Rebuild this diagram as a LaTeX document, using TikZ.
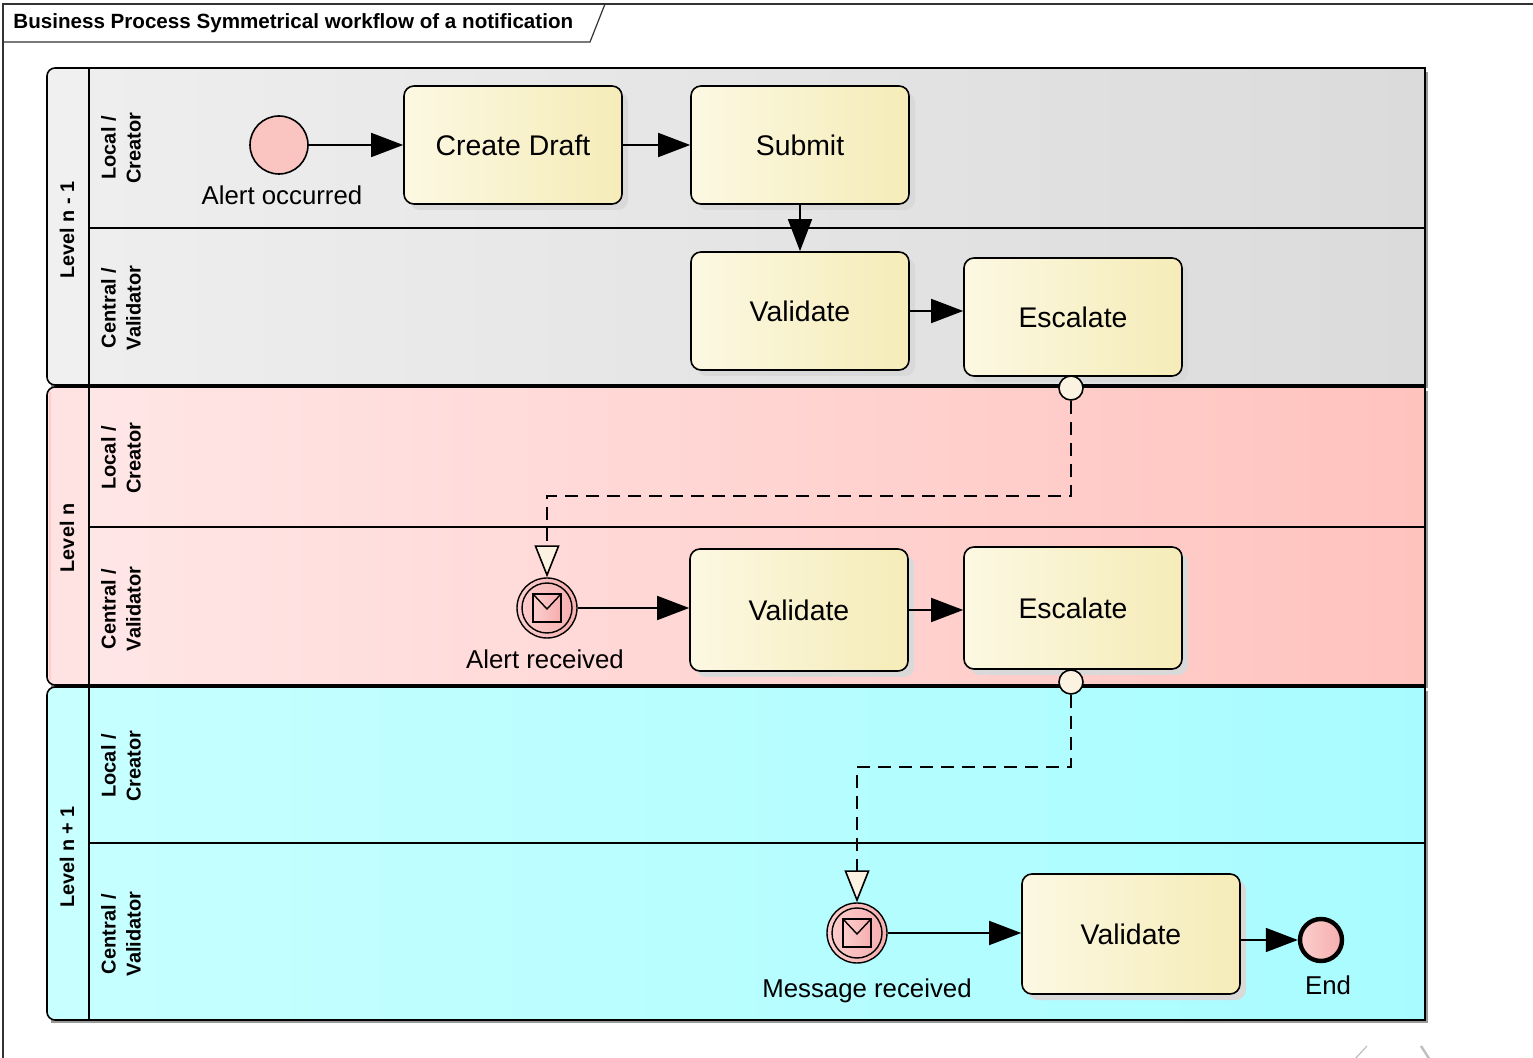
\documentclass[tikz,border=0pt]{standalone}
\usepackage{fontspec}
\setmainfont{Liberation Sans}
\usetikzlibrary{arrows.meta,shadows,calc}
\definecolor{taskL}{HTML}{FCF8E2}
\definecolor{taskR}{HTML}{F5ECB8}
\definecolor{poolAL}{HTML}{EEEEEE}
\definecolor{poolAR}{HTML}{DBDBDB}
\definecolor{hdrA}{HTML}{F0F0F0}
\definecolor{poolBL}{HTML}{FFE6E6}
\definecolor{poolBR}{HTML}{FFC3BE}
\definecolor{hdrB}{HTML}{FFE2E2}
\definecolor{poolCL}{HTML}{C6FFFF}
\definecolor{poolCR}{HTML}{A8FCFF}
\definecolor{hdrC}{HTML}{C8FFFF}
\definecolor{cream}{HTML}{FCF2E2}
\definecolor{evL}{HTML}{FCCECE}
\definecolor{evR}{HTML}{F6AEAE}
\definecolor{startfill}{HTML}{FAC4C0}
\begin{document}
\begin{tikzpicture}[x=0.5pt,y=-0.5pt,
  task/.style={draw=black, line width=0.8pt, rounded corners=5pt,
    left color=taskL, right color=taskR, minimum width=109pt, minimum height=59pt,
    font=\fontsize{14.2}{16}\selectfont, inner sep=0pt,
    drop shadow={shadow xshift=3pt, shadow yshift=-3pt, fill=black!15, opacity=1}},
  flow/.style={line width=0.8pt, -{Triangle[length=16pt,width=12pt]}},
  mflow/.style={line width=0.8pt, dash pattern=on 6.5pt off 4pt,
    -{Triangle[length=16pt,width=12.5pt,fill=cream]}},
  mcirc/.style={circle, draw, line width=0.8pt, fill=cream, minimum size=12pt, inner sep=0pt},
  evlbl/.style={font=\fontsize{12.9}{15}\selectfont, inner sep=0pt},
  lanelbl/.style={rotate=90, align=center, font=\bfseries\fontsize{10}{12.5}\selectfont, inner sep=0pt},
  poollbl/.style={rotate=90, font=\bfseries\fontsize{9.9}{12}\selectfont, inner sep=0pt},
  msgev/.style={circle, draw, line width=0.7pt, left color=evL, right color=evR,
    minimum size=30pt, inner sep=0pt},
  pline/.style={line width=0.8pt, draw=black}
]
\useasboundingbox (0,0) rectangle (1533,1058);
\fill[white] (0,0) rectangle (1533,1058);
% frame and title
\draw[line width=0.6pt, black!80] (3,1058) -- (3,4) -- (1533,4);
\draw[line width=0.6pt, black!80] (3,42) -- (590,42) -- (605,4);
\node[anchor=west, font=\bfseries\fontsize{10.3}{12}\selectfont, inner sep=0pt] (title) at (13,23) {Business Process Symmetrical workflow of a notification};

% ---------- Pool 1 ----------
\fill[black!40] (51,72) rectangle (1428,388);
\filldraw[fill=hdrA, pline, rounded corners=4pt] (89,385) -- (47,385) -- (47,68) -- (89,68);
\shade[left color=poolAL, right color=poolAR] (89,68) rectangle (1425,385);
\draw[pline] (89,68) rectangle (1425,385);
\draw[pline] (89,228) -- (1425,228);
\node[poollbl] (p1) at (67,230) {Level n - 1};
\node[lanelbl] (l11) at (121,148) {Local /\\Creator};
\node[lanelbl] (l12) at (121,308) {Central /\\Validator};

% ---------- Pool 2 ----------
\fill[black!40] (51,391) rectangle (1428,688);
\filldraw[fill=hdrB, pline, rounded corners=4pt] (89,685) -- (47,685) -- (47,387) -- (89,387);
\fill[poolBR!80] (48.5,392) rectangle (51,680);
\shade[left color=poolBL, right color=poolBR] (89,387) rectangle (1425,685);
\draw[pline] (89,387) rectangle (1425,685);
\draw[pline] (89,527) -- (1425,527);
\node[poollbl] (p2) at (67,538) {Level n};
\node[lanelbl] (l21) at (121,458) {Local /\\Creator};
\node[lanelbl] (l22) at (121,609) {Central /\\Validator};

% ---------- Pool 3 ----------
\fill[black!40] (51,691) rectangle (1428,1023);
\filldraw[fill=hdrC, pline, rounded corners=4pt] (89,1020) -- (47,1020) -- (47,687) -- (89,687);
\shade[left color=poolCL, right color=poolCR] (89,687) rectangle (1425,1020);
\draw[pline] (89,687) rectangle (1425,1020);
\draw[pline] (89,843) -- (1425,843);
\node[poollbl] (p3) at (67,857) {Level n + 1};
\node[lanelbl] (l31) at (121,766) {Local /\\Creator};
\node[lanelbl] (l32) at (121,934) {Central /\\Validator};

% ---------- tasks ----------
\node[task] (cd) at (513,145) {Create Draft};
\node[task] (sub) at (800,145) {Submit};
\node[task] (val1) at (800,311) {Validate};
\node[task] (esc1) at (1073,317) {Escalate};
\node[task, minimum height=61pt] (val2) at (799,610) {Validate};
\node[task, minimum height=61pt] (esc2) at (1073,608) {Escalate};
\node[task, minimum height=60pt] (val3) at (1131,934) {Validate};

% ---------- events ----------
\node[circle, draw, line width=0.8pt, fill=startfill, minimum size=29pt, inner sep=0pt] (start) at (279,145) {};
\node[evlbl] (lstart) at (282,195) {Alert occurred};

\node[msgev] (alrt) at (547,608) {};
\draw[line width=0.7pt] (alrt) circle[radius=25];
\draw[line width=0.7pt, left color=evL, right color=evR] ($(alrt)+(-14,-14)$) rectangle ($(alrt)+(14,14)$);
\draw[line width=0.7pt] ($(alrt)+(-14,-14)$) -- ($(alrt)+(0,1)$) -- ($(alrt)+(14,-14)$);
\node[evlbl] (lalrt) at (545,659) {Alert received};

\node[msgev] (msg) at (857,933) {};
\draw[line width=0.7pt] (msg) circle[radius=25];
\draw[line width=0.7pt, left color=evL, right color=evR] ($(msg)+(-14,-14)$) rectangle ($(msg)+(14,14)$);
\draw[line width=0.7pt] ($(msg)+(-14,-14)$) -- ($(msg)+(0,1)$) -- ($(msg)+(14,-14)$);
\node[evlbl] (lmsg) at (867,991) {Message received};

\node[circle, draw, line width=2.2pt, left color=evL, right color=evR, minimum size=21pt, inner sep=0pt] (endev) at (1321,940) {};
\node[evlbl] (lend) at (1328,985) {End};

% ---------- sequence flows ----------
\draw[flow] (start) -- (cd);
\draw[flow] (cd) -- (sub);
\draw[flow] (sub) -- (val1);
\draw[flow] (val1.east) -- (val1.east -| esc1.west);
\draw[flow] (alrt) -- (alrt -| val2.west);
\draw[flow] (val2.east) -- (val2.east -| esc2.west);
\draw[flow] (msg) -- (msg -| val3.west);
\draw[flow] (val3.east |- endev) -- (endev);

% ---------- message flows ----------
\node[mcirc] (m1) at (1071,388) {};
\coordinate (k1) at (1071,496);
\draw[mflow] (m1.south) -- (k1) -| (alrt.north);
\node[mcirc] (m2) at (1071,682) {};
\coordinate (k2) at (1071,767);
\draw[mflow] (m2.south) -- (k2) -| (msg.north);

% faint marks
\draw[black!25, line width=0.6pt] (1354,1060) -- (1367,1046);
\draw[black!25, line width=1.2pt] (1421,1046) -- (1430,1060);
\end{tikzpicture}
\end{document}
